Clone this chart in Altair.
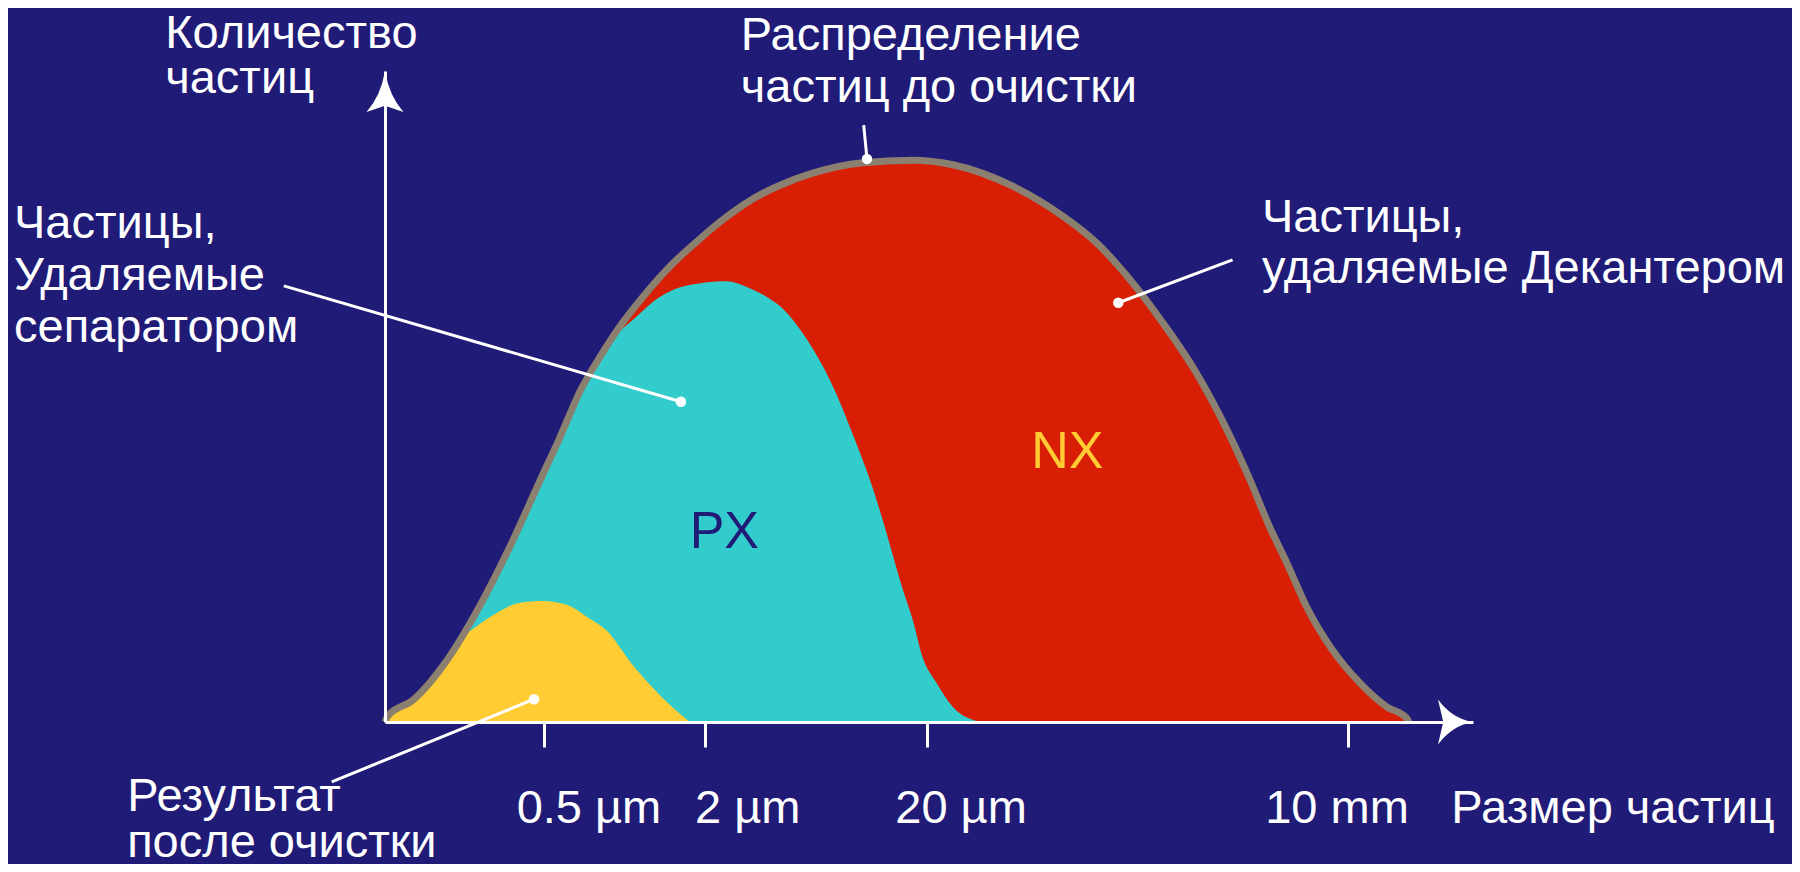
import altair as alt
import pandas as pd

BG = "#1F1B77"
RED = "#D81E05"
CYAN = "#33CCCC"
YELLOW = "#FFCC33"
GREY = "#8B8070"
FONT = "Liberation Sans"

# Particle distribution before cleaning (grey outline, red fill = decanter part)
total_x = [0.0, 0.2, 2.6, 5.7, 8.7, 11.5, 14.2, 16.1, 17.9, 19.8, 21.6, 23.7, 26.5, 29.0,
           31.4, 34.5, 36.1, 39.3, 43.9, 48.5, 52.2, 57.7, 62.3, 65.4, 68.5, 71.5, 74.4,
           77.7, 79.5, 81.3, 82.9, 84.7, 86.9, 89.6, 92.1, 93.9, 94.1]
total_y = [0.0, 0.8, 3.4, 9.5, 17.8, 27.0, 36.9, 43.8, 50.7, 56.2, 60.8, 65.3, 70.5, 74.3,
           77.6, 81.0, 82.3, 84.3, 85.9, 86.3, 85.6, 82.3, 77.7, 73.6, 67.9, 61.3, 54.1,
           43.8, 37.2, 30.0, 24.4, 17.7, 11.5, 6.0, 2.3, 0.6, 0.0]

# Particles removed by separator (PX, cyan)
sep_x = [0.0, 0.2, 2.6, 5.7, 8.7, 11.5, 14.2, 16.1, 17.9, 19.8, 21.1, 23.2, 25.0, 26.5, 29.0,
         31.4, 33.3, 35.1, 36.3, 38.8, 40.9, 43.2, 44.9, 46.1, 47.6, 48.5, 49.4, 50.7, 52.2, 54.7]
sep_y = [0.0, 0.8, 3.4, 9.5, 17.8, 27.0, 36.9, 43.8, 50.7, 56.2, 59.1, 62.4, 65.0, 66.4, 67.4,
         67.7, 66.8, 65.3, 63.9, 58.7, 52.5, 43.3, 35.6, 29.0, 20.3, 15.7, 10.0, 6.0, 2.3, 0.0]

# Result after cleaning (yellow)
res_x = [0.0, 0.2, 2.6, 5.7, 7.2, 8.5, 10.1, 12.4, 14.5, 16.7, 18.6, 20.4, 22.6, 24.7, 26.2, 28.0]
res_y = [0.0, 0.8, 3.4, 9.5, 13.1, 14.8, 16.6, 18.3, 18.6, 18.0, 16.1, 14.0, 9.1, 5.1, 2.6, 0.0]

# x-axis ticks and their labels
tick_values = [14.6, 29.4, 49.8, 88.5]
tick_labels = ["0.5 µm", "2 µm", "20 µm", "10 mm", "Размер частиц"]
tick_label_x = [12.1, 28.5, 46.9, 80.9, 98.0]
tick_label_y = -15.5

# annotation texts (white)
note_text = ["Количество", "частиц", "Распределение", "частиц до очистки",
             "Частицы,", "Удаляемые", "сепаратором",
             "Частицы,", "удаляемые Декантером",
             "Результат", "после очистки"]
note_x = [-20.2, -20.2, 32.7, 32.7, -34.1, -34.1, -34.1, 80.6, 80.6, -23.7, -23.7]
note_y = [103.5, 96.6, 103.3, 95.3, 74.3, 66.4, 58.4, 75.3, 67.4, -13.6, -20.7]

# leader lines: start (x, y) -> dot (x2, y2)
lead_x = [-9.3, 44.0, 77.9, -4.9]
lead_y = [67.0, 91.7, 71.0, -9.2]
lead_x2 = [27.2, 44.3, 67.4, 13.7]
lead_y2 = [49.2, 86.5, 64.4, 3.5]

# region labels
region_text = ["PX", "NX"]
region_x = [28.0, 59.4]
region_y = [26.7, 39.0]
region_color = [BG, YELLOW]

xs = alt.Scale(domain=[0, 100], nice=False, zero=False)
ys = alt.Scale(domain=[0, 100], nice=False, zero=False)
x_axis = alt.Axis(values=tick_values, labels=False, title=None, grid=False,
                  domainColor="white", domainWidth=3, tickColor="white", tickWidth=3,
                  tickSize=25, zindex=1)
y_axis = alt.Axis(labels=False, ticks=False, title=None, grid=False,
                  domainColor="white", domainWidth=3, zindex=1)


def X(f="x"):
    return alt.X(f"{f}:Q", scale=xs, axis=x_axis)


def Y(f="y"):
    return alt.Y(f"{f}:Q", scale=ys, axis=y_axis)


total_df = pd.DataFrame({"x": total_x, "y": total_y})
sep_df = pd.DataFrame({"x": sep_x, "y": sep_y})
res_df = pd.DataFrame({"x": res_x, "y": res_y})

red = alt.Chart(total_df).mark_area(color=RED, interpolate="monotone", opacity=1).encode(x=X(), y=Y())
cyan = alt.Chart(sep_df).mark_area(color=CYAN, interpolate="monotone", opacity=1).encode(x=X(), y=Y())
yellow = alt.Chart(res_df).mark_area(color=YELLOW, interpolate="monotone", opacity=1).encode(x=X(), y=Y())
outline = alt.Chart(total_df).mark_line(color=GREY, strokeWidth=7, interpolate="monotone",
                                        strokeCap="butt").encode(x=X(), y=Y())

lead_df = pd.DataFrame({"x": lead_x, "y": lead_y, "x2": lead_x2, "y2": lead_y2})
leaders = alt.Chart(lead_df).mark_rule(color="white", strokeWidth=3).encode(
    x=X(), y=Y(), x2="x2:Q", y2="y2:Q")
dots = alt.Chart(lead_df).mark_circle(color="white", size=110, opacity=1).encode(
    x=X("x2"), y=Y("y2"))

notes_df = pd.DataFrame({"text": note_text + tick_labels,
                         "x": note_x + tick_label_x,
                         "y": note_y + [tick_label_y] * len(tick_labels)})
notes = alt.Chart(notes_df).mark_text(align="left", baseline="alphabetic", font=FONT,
                                      fontSize=47, color="white").encode(
    x=X(), y=Y(), text="text:N")

region_df = pd.DataFrame({"text": region_text, "x": region_x, "y": region_y, "c": region_color})
regions = alt.Chart(region_df).mark_text(align="left", baseline="alphabetic", font=FONT,
                                         fontSize=52).encode(
    x=X(), y=Y(), text="text:N", color=alt.Color("c:N", scale=None))

arrow_up = "M0,0 Q0.2,1.2 0.9,2 L0,1.7 L-0.9,2 Q-0.2,1.2 0,0 Z"
arrow_right = "M0,0 Q-1.2,0.2 -2,1.29 L-1.7,0 L-2,-1.29 Q-1.2,-0.2 0,0 Z"
y_head = alt.Chart(pd.DataFrame({"x": [0], "y": [100]})).mark_point(
    shape=arrow_up, size=1681, filled=True, color="white", opacity=1, strokeWidth=0).encode(x=X(), y=Y())
x_head = alt.Chart(pd.DataFrame({"x": [100], "y": [0]})).mark_point(
    shape=arrow_right, size=1225, filled=True, color="white", opacity=1, strokeWidth=0).encode(x=X(), y=Y())

chart = alt.layer(red, cyan, yellow, outline, leaders, dots, notes, regions, y_head, x_head).properties(
    width=1088, height=651,
    padding={"left": 377, "top": 63, "right": 319, "bottom": 142},
    autosize=alt.AutoSizeParams(type="none"),
    background=BG,
).configure_view(strokeWidth=0)

chart.save("out.html", embed_options={"renderer": "svg", "actions": False})
